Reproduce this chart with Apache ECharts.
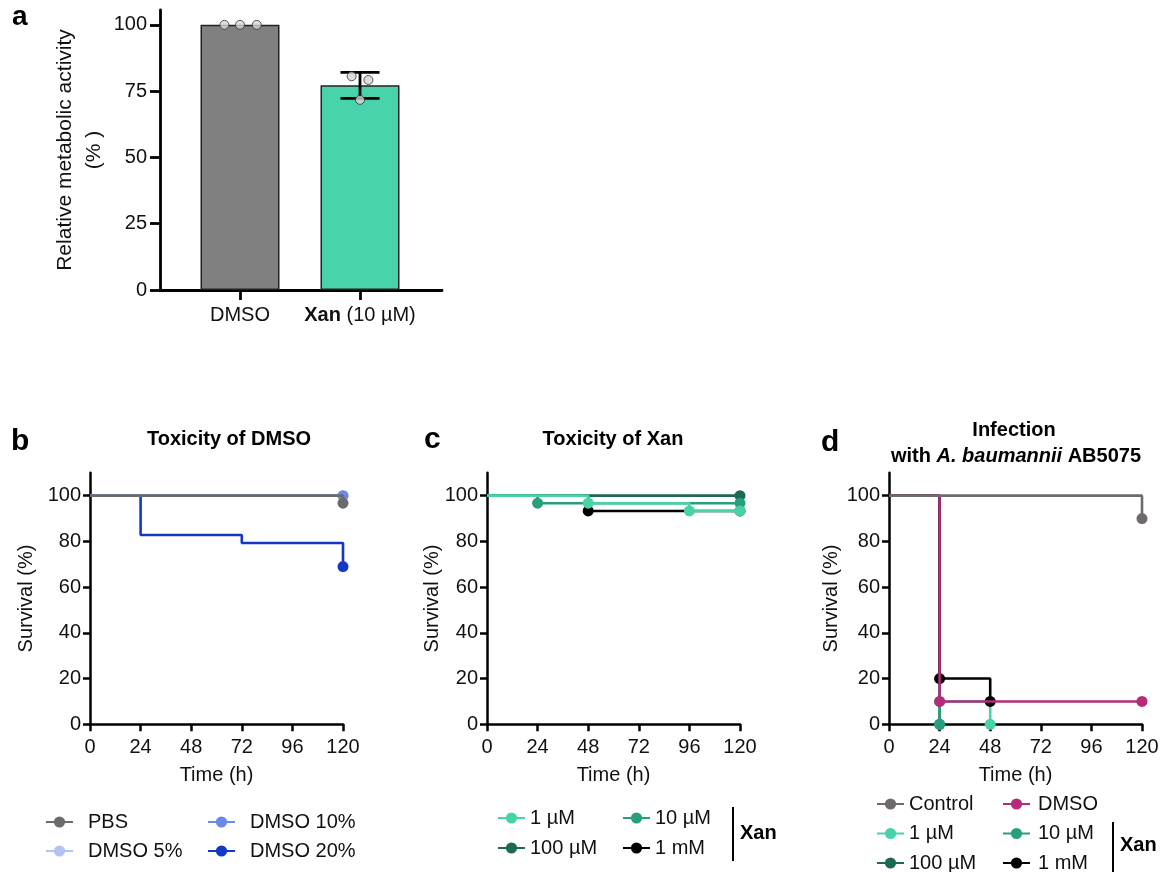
<!DOCTYPE html>
<html>
<head>
<meta charset="utf-8">
<script src="https://cdn.jsdelivr.net/npm/echarts@6/dist/echarts.min.js"></script>
<style>html,body{margin:0;padding:0;background:#fff}#chart{width:1166px;height:872px}</style>
</head>
<body>
<div id="chart"></div>
<script>
// a: relative metabolic activity
const barCats = ['DMSO', 'Xan']
const barMeans = [100, 77.2]
const barSd = [0, 4.9]
const dmsoReps = [100, 100, 100]
const xanReps = [80.6, 79.2, 71.7]
const repJitter = [[-0.13, 0, 0.14], [-0.07, 0.07, 0]]
const yTicksA = [0, 25, 50, 75, 100]

// b-d: survival curves, [time (h), survival (%)]
const survTicks = [0, 20, 40, 60, 80, 100]

const pbs = [[0, 100], [120, 96.7]]
const dmso5 = [[0, 100], [120, 100]]
const dmso10 = [[0, 100], [120, 100]]
const dmso20 = [[0, 100], [24, 82.8], [72, 79.3], [120, 69]]

const xan1uM = [[0, 100], [48, 96.7], [96, 93.3], [120, 93.3]]
const xan10uM = [[0, 100], [24, 96.7], [120, 96.7]]
const xan100uM = [[0, 100], [120, 100]]
const xan1mM = [[0, 100], [48, 93.3], [120, 93.3]]

const infControl = [[0, 100], [120, 90]]
const infDmso = [[0, 100], [24, 10], [120, 10]]
const inf1uM = [[0, 100], [24, 10], [48, 0]]
const inf10uM = [[0, 100], [24, 0]]
const inf100uM = [[0, 100], [24, 0]]
const inf1mM = [[0, 100], [24, 20], [48, 10]]

const FONT = '"Liberation Sans", Arial, sans-serif'
const C = {
  pbs: '#6b6b6b', d5: '#b3c2f4', d10: '#6a89e8', d20: '#1438c6',
  u1: '#48d2a9', u10: '#279f7e', u100: '#1b6a51', m1: '#000000',
  ctrl: '#6e6a6e', dmso: '#b52a79'
}

const chart = echarts.init(document.getElementById('chart'))

const axisLine = { lineStyle: { color: '#000', width: 2.5 } }
const labelStyle = { color: '#111', fontSize: 20, fontFamily: FONT }

const survGrid = left => ({ left, top: 472.8, width: 253, height: 251.5, containLabel: false, outerBoundsMode: 'none' })
const survX = grid => ({
  type: 'value', gridIndex: grid, min: 0, max: 120, interval: 24,
  name: 'Time (h)', nameLocation: 'middle', nameGap: 40, nameMoveOverlap: false,
  nameTextStyle: { ...labelStyle, lineHeight: 22 },
  axisLine, axisTick: { length: 7, lineStyle: { color: '#000', width: 2.5 } },
  axisLabel: { ...labelStyle, margin: 13 }, splitLine: { show: false }
})
const survY = (grid, gap) => ({
  type: 'value', gridIndex: grid, min: 0, max: 110, interval: 20,
  name: 'Survival (%)', nameLocation: 'middle', nameGap: gap, nameMoveOverlap: false,
  nameTextStyle: { ...labelStyle, lineHeight: 22 },
  axisLine: { show: true, ...axisLine },
  axisTick: { show: true, length: 7, customValues: survTicks, lineStyle: { color: '#000', width: 2.5 } },
  axisLabel: { ...labelStyle, margin: 9, customValues: survTicks }, splitLine: { show: false }
})

// Kaplan-Meier step line; dots at the last point, and at drops if eventDots
const km = (name, data, color, grid, eventDots, z) => ({
  name, type: 'line', step: 'end', xAxisIndex: grid, yAxisIndex: grid, z,
  symbol: 'circle', symbolSize: 11, showAllSymbol: true,
  lineStyle: { color, width: 2.6 }, itemStyle: { color },
  data: data.map((p, i) => ({
    value: p,
    symbolSize: (i === data.length - 1 || (eventDots && i > 0)) ? 11 : 0
  }))
})

const legend = (left, top, data, gap, pad) => ({
  left, top, height: 120, orient: 'vertical', padding: 0, itemWidth: 27, itemHeight: 14, itemGap: gap,
  data, selectedMode: false,
  textStyle: { ...labelStyle, padding: [0, 0, 0, pad] }
})

const txt = (text, x, y, size, extra) => ({
  type: 'text', x, y,
  style: { text, fill: '#000', fontSize: size, fontWeight: 'bold', fontFamily: FONT,
    textVerticalAlign: 'middle', ...extra }
})

chart.setOption({
  animation: false,
  grid: [
    { left: 160, top: 10, width: 282, height: 280, containLabel: false, outerBoundsMode: 'none' },
    survGrid(90), survGrid(487), survGrid(889)
  ],
  xAxis: [
    {
      type: 'value', gridIndex: 0, min: 0.3333, max: 2.6833,
      axisLine: { lineStyle: { color: '#000', width: 2.8 } },
      axisTick: { length: 10, customValues: [1, 2], lineStyle: { color: '#000', width: 2.8 } },
      axisLabel: {
        ...labelStyle, margin: 15, customValues: [1, 2],
        formatter: v => v === 1 ? barCats[0] : '{b|' + barCats[1] + '} (10 µM)',
        rich: { b: { ...labelStyle, fontWeight: 'bold' } }
      },
      splitLine: { show: false }
    },
    survX(1), survX(2), survX(3)
  ],
  yAxis: [
    {
      type: 'value', gridIndex: 0, min: 0, max: 105.6, interval: 25,
      name: 'Relative metabolic activity\n(% )', nameLocation: 'middle', nameGap: 51, nameMoveOverlap: false,
      nameTextStyle: { ...labelStyle, fontSize: 21, lineHeight: 29 },
      axisLine: { show: true, lineStyle: { color: '#000', width: 2.8 } },
      axisTick: { show: true, length: 10, customValues: yTicksA, lineStyle: { color: '#000', width: 2.8 } },
      axisLabel: { ...labelStyle, margin: 13, customValues: yTicksA },
      splitLine: { show: false }
    },
    survY(1, 53), survY(2, 44), survY(3, 47)
  ],
  legend: [
    legend(45, 812, ['PBS', 'DMSO 5%'], 9, 10),
    legend(207, 812, ['DMSO 10%', 'DMSO 20%'], 9, 10),
    legend(497, 808, ['1 µM', '100 µM'], 10, 0),
    legend(622, 808, ['10 µM', '1 mM'], 10, 0),
    legend(876, 794, ['Control', '1 µM', '100 µM'], 9.5, 0),
    legend(1002, 794, ['DMSO', '10 µM', '1 mM'], 9.5, 3)
  ],
  series: [
    {
      name: 'activity', type: 'bar', xAxisIndex: 0, yAxisIndex: 0, barWidth: 79, z: 2,
      data: barMeans.map((m, i) => ({
        value: [i + 1, m],
        itemStyle: { color: i === 0 ? '#808080' : '#48d3ab', borderColor: '#222', borderWidth: 1.5 }
      }))
    },
    {
      name: 'sd', type: 'custom', xAxisIndex: 0, yAxisIndex: 0, z: 3,
      data: barMeans.map((m, i) => [i + 1, m - barSd[i], m + barSd[i]]).filter((d, i) => barSd[i] > 0),
      renderItem: (params, api) => {
        const lo = api.coord([api.value(0), api.value(1)])
        const hi = api.coord([api.value(0), api.value(2)])
        const half = 19.5
        const style = { stroke: '#000', lineWidth: 2.8 }
        return {
          type: 'group', children: [
            { type: 'line', shape: { x1: lo[0], y1: lo[1], x2: hi[0], y2: hi[1] }, style },
            { type: 'line', shape: { x1: lo[0] - half, y1: lo[1], x2: lo[0] + half, y2: lo[1] }, style },
            { type: 'line', shape: { x1: hi[0] - half, y1: hi[1], x2: hi[0] + half, y2: hi[1] }, style }
          ]
        }
      }
    },
    {
      name: 'reps', type: 'scatter', xAxisIndex: 0, yAxisIndex: 0, z: 4, symbolSize: 9,
      itemStyle: { color: '#d4d4d4', borderColor: '#333', borderWidth: 1 },
      data: [dmsoReps, xanReps].flatMap((reps, g) => reps.map((v, k) => [g + 1 + repJitter[g][k], v]))
    },

    km('DMSO 20%', dmso20, C.d20, 1, false, 2),
    km('DMSO 5%', dmso5, C.d5, 1, false, 3),
    km('DMSO 10%', dmso10, C.d10, 1, false, 4),
    km('PBS', pbs, C.pbs, 1, false, 5),

    km('1 mM', xan1mM, C.m1, 2, true, 2),
    km('100 µM', xan100uM, C.u100, 2, true, 3),
    km('10 µM', xan10uM, C.u10, 2, true, 4),
    km('1 µM', xan1uM, C.u1, 2, true, 5),

    km('100 µM', inf100uM, C.u100, 3, true, 2),
    km('1 µM', inf1uM, C.u1, 3, true, 3),
    km('10 µM', inf10uM, C.u10, 3, true, 4),
    km('1 mM', inf1mM, C.m1, 3, true, 5),
    km('DMSO', infDmso, C.dmso, 3, true, 6),
    km('Control', infControl, C.ctrl, 3, true, 7)
  ],
  graphic: [
    txt('a', 12, 17, 28),
    txt('b', 11, 441.6, 30),
    txt('c', 424, 439.6, 30),
    txt('d', 821, 442.6, 30),
    txt('Toxicity of DMSO', 229, 439.8, 20, { textAlign: 'center' }),
    txt('Toxicity of Xan', 613, 439.8, 20, { textAlign: 'center' }),
    txt('Infection', 1014, 430, 20, { textAlign: 'center' }),
    txt('with {i|A. baumannii} AB5075', 1016, 456.5, 20, {
      textAlign: 'center',
      rich: { i: { fontSize: 20, fontWeight: 'bold', fontStyle: 'italic', fontFamily: FONT } }
    }),
    txt('Xan', 740, 833, 20),
    txt('Xan', 1120, 845, 20),
    { type: 'line', shape: { x1: 733, y1: 807, x2: 733, y2: 861 }, style: { stroke: '#000', lineWidth: 2 } },
    { type: 'line', shape: { x1: 1113, y1: 822, x2: 1113, y2: 872 }, style: { stroke: '#000', lineWidth: 2 } }
  ]
})
</script>
</body>
</html>
